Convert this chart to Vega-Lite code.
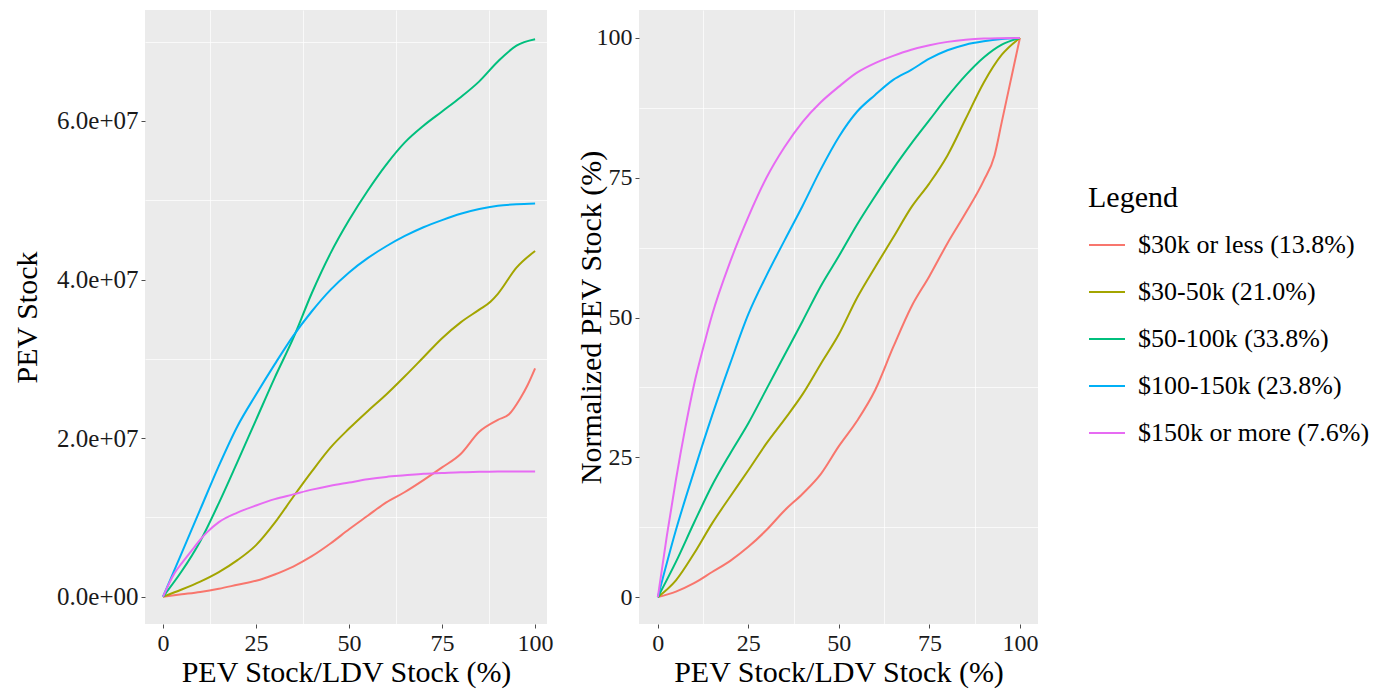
{
  "$schema": "https://vega.github.io/schema/vega-lite/v6.json",
  "background": "white",
  "padding": {"left": 12, "top": 10, "right": 5, "bottom": 5},
  "spacing": 22,
  "config": {
    "font": "Liberation Serif",
    "view": {"fill": "#EBEBEB", "stroke": null},
    "axis": {
      "labelFont": "Liberation Serif", "labelFontSize": 24, "labelColor": "#1a1a1a",
      "titleFont": "Liberation Serif", "titleFontSize": 30, "titleFontWeight": "normal", "titleColor": "black",
      "domain": false, "tickColor": "#4d4d4d", "tickSize": 4, "tickWidth": 1, "labelPadding": 3,
      "gridColor": "white", "gridWidth": 1.4, "labelFlush": false, "labelOverlap": false
    },
    "legend": {
      "titleFont": "Liberation Serif", "titleFontSize": 30, "titleFontWeight": "normal", "titleColor": "black",
      "labelFont": "Liberation Serif", "labelFontSize": 26, "labelColor": "black", "labelLimit": 400,
      "symbolType": "stroke", "symbolStrokeWidth": 2, "symbolSize": 1296,
      "labelOffset": 12, "rowPadding": 15, "titlePadding": 13, "padding": 0
    }
  },
  "datasets": {
    "stock": [
      {"g":"$30k or less (13.8%)","x":0,"v":0},{"g":"$30k or less (13.8%)","x":5,"v":300000},{"g":"$30k or less (13.8%)","x":10,"v":600000},{"g":"$30k or less (13.8%)","x":15,"v":1000000},{"g":"$30k or less (13.8%)","x":20,"v":1500000},{"g":"$30k or less (13.8%)","x":25,"v":2000000},{"g":"$30k or less (13.8%)","x":30,"v":2800000},{"g":"$30k or less (13.8%)","x":35,"v":3800000},{"g":"$30k or less (13.8%)","x":40,"v":5100000},{"g":"$30k or less (13.8%)","x":45,"v":6700000},{"g":"$30k or less (13.8%)","x":50,"v":8500000},{"g":"$30k or less (13.8%)","x":55,"v":10200000},{"g":"$30k or less (13.8%)","x":60,"v":11900000},{"g":"$30k or less (13.8%)","x":65,"v":13200000},{"g":"$30k or less (13.8%)","x":70,"v":14700000},{"g":"$30k or less (13.8%)","x":75,"v":16300000},{"g":"$30k or less (13.8%)","x":80,"v":18000000},{"g":"$30k or less (13.8%)","x":85,"v":20800000},{"g":"$30k or less (13.8%)","x":90,"v":22300000},{"g":"$30k or less (13.8%)","x":93,"v":23000000},{"g":"$30k or less (13.8%)","x":96,"v":25000000},{"g":"$30k or less (13.8%)","x":98,"v":26700000},{"g":"$30k or less (13.8%)","x":100,"v":28800000},
      {"g":"$30-50k (21.0%)","x":0,"v":0},{"g":"$30-50k (21.0%)","x":5,"v":900000},{"g":"$30-50k (21.0%)","x":10,"v":1900000},{"g":"$30-50k (21.0%)","x":15,"v":3100000},{"g":"$30-50k (21.0%)","x":20,"v":4600000},{"g":"$30-50k (21.0%)","x":25,"v":6500000},{"g":"$30-50k (21.0%)","x":30,"v":9300000},{"g":"$30-50k (21.0%)","x":35,"v":12600000},{"g":"$30-50k (21.0%)","x":40,"v":15800000},{"g":"$30-50k (21.0%)","x":45,"v":18800000},{"g":"$30-50k (21.0%)","x":50,"v":21200000},{"g":"$30-50k (21.0%)","x":55,"v":23400000},{"g":"$30-50k (21.0%)","x":60,"v":25500000},{"g":"$30-50k (21.0%)","x":65,"v":27800000},{"g":"$30-50k (21.0%)","x":70,"v":30200000},{"g":"$30-50k (21.0%)","x":75,"v":32600000},{"g":"$30-50k (21.0%)","x":80,"v":34600000},{"g":"$30-50k (21.0%)","x":85,"v":36200000},{"g":"$30-50k (21.0%)","x":88,"v":37200000},{"g":"$30-50k (21.0%)","x":90,"v":38200000},{"g":"$30-50k (21.0%)","x":95,"v":41500000},{"g":"$30-50k (21.0%)","x":100,"v":43600000},
      {"g":"$50-100k (33.8%)","x":0,"v":0},{"g":"$50-100k (33.8%)","x":5,"v":3200000},{"g":"$50-100k (33.8%)","x":10,"v":7000000},{"g":"$50-100k (33.8%)","x":15,"v":11800000},{"g":"$50-100k (33.8%)","x":20,"v":17000000},{"g":"$50-100k (33.8%)","x":25,"v":22300000},{"g":"$50-100k (33.8%)","x":30,"v":27600000},{"g":"$50-100k (33.8%)","x":35,"v":32600000},{"g":"$50-100k (33.8%)","x":40,"v":38300000},{"g":"$50-100k (33.8%)","x":45,"v":43300000},{"g":"$50-100k (33.8%)","x":50,"v":47500000},{"g":"$50-100k (33.8%)","x":55,"v":51200000},{"g":"$50-100k (33.8%)","x":60,"v":54500000},{"g":"$50-100k (33.8%)","x":65,"v":57300000},{"g":"$50-100k (33.8%)","x":70,"v":59400000},{"g":"$50-100k (33.8%)","x":75,"v":61200000},{"g":"$50-100k (33.8%)","x":80,"v":63000000},{"g":"$50-100k (33.8%)","x":85,"v":65000000},{"g":"$50-100k (33.8%)","x":90,"v":67500000},{"g":"$50-100k (33.8%)","x":95,"v":69500000},{"g":"$50-100k (33.8%)","x":100,"v":70300000},
      {"g":"$100-150k (23.8%)","x":0,"v":0},{"g":"$100-150k (23.8%)","x":5,"v":5500000},{"g":"$100-150k (23.8%)","x":10,"v":11000000},{"g":"$100-150k (23.8%)","x":15,"v":16500000},{"g":"$100-150k (23.8%)","x":20,"v":21500000},{"g":"$100-150k (23.8%)","x":25,"v":25500000},{"g":"$100-150k (23.8%)","x":30,"v":29300000},{"g":"$100-150k (23.8%)","x":35,"v":32900000},{"g":"$100-150k (23.8%)","x":40,"v":36000000},{"g":"$100-150k (23.8%)","x":45,"v":38700000},{"g":"$100-150k (23.8%)","x":50,"v":40900000},{"g":"$100-150k (23.8%)","x":55,"v":42700000},{"g":"$100-150k (23.8%)","x":60,"v":44200000},{"g":"$100-150k (23.8%)","x":65,"v":45500000},{"g":"$100-150k (23.8%)","x":70,"v":46600000},{"g":"$100-150k (23.8%)","x":75,"v":47500000},{"g":"$100-150k (23.8%)","x":80,"v":48300000},{"g":"$100-150k (23.8%)","x":85,"v":48900000},{"g":"$100-150k (23.8%)","x":90,"v":49300000},{"g":"$100-150k (23.8%)","x":95,"v":49500000},{"g":"$100-150k (23.8%)","x":100,"v":49600000},
      {"g":"$150k or more (7.6%)","x":0,"v":0},{"g":"$150k or more (7.6%)","x":3,"v":2900000},{"g":"$150k or more (7.6%)","x":5,"v":4200000},{"g":"$150k or more (7.6%)","x":8,"v":6000000},{"g":"$150k or more (7.6%)","x":10,"v":7200000},{"g":"$150k or more (7.6%)","x":12,"v":8200000},{"g":"$150k or more (7.6%)","x":15,"v":9400000},{"g":"$150k or more (7.6%)","x":20,"v":10600000},{"g":"$150k or more (7.6%)","x":25,"v":11500000},{"g":"$150k or more (7.6%)","x":30,"v":12300000},{"g":"$150k or more (7.6%)","x":35,"v":12900000},{"g":"$150k or more (7.6%)","x":40,"v":13500000},{"g":"$150k or more (7.6%)","x":45,"v":14000000},{"g":"$150k or more (7.6%)","x":50,"v":14400000},{"g":"$150k or more (7.6%)","x":55,"v":14800000},{"g":"$150k or more (7.6%)","x":60,"v":15100000},{"g":"$150k or more (7.6%)","x":65,"v":15300000},{"g":"$150k or more (7.6%)","x":70,"v":15500000},{"g":"$150k or more (7.6%)","x":75,"v":15600000},{"g":"$150k or more (7.6%)","x":80,"v":15700000},{"g":"$150k or more (7.6%)","x":85,"v":15750000},{"g":"$150k or more (7.6%)","x":90,"v":15800000},{"g":"$150k or more (7.6%)","x":100,"v":15800000}
    ],
    "norm": [
      {"g":"$30k or less (13.8%)","x":0,"v":0},{"g":"$30k or less (13.8%)","x":5,"v":1},{"g":"$30k or less (13.8%)","x":10,"v":2.5},{"g":"$30k or less (13.8%)","x":15,"v":4.5},{"g":"$30k or less (13.8%)","x":20,"v":6.5},{"g":"$30k or less (13.8%)","x":25,"v":9},{"g":"$30k or less (13.8%)","x":30,"v":12},{"g":"$30k or less (13.8%)","x":35,"v":15.5},{"g":"$30k or less (13.8%)","x":40,"v":18.5},{"g":"$30k or less (13.8%)","x":45,"v":22},{"g":"$30k or less (13.8%)","x":50,"v":27},{"g":"$30k or less (13.8%)","x":55,"v":31.5},{"g":"$30k or less (13.8%)","x":60,"v":37},{"g":"$30k or less (13.8%)","x":65,"v":44.7},{"g":"$30k or less (13.8%)","x":70,"v":51.9},{"g":"$30k or less (13.8%)","x":75,"v":57.4},{"g":"$30k or less (13.8%)","x":80,"v":63.3},{"g":"$30k or less (13.8%)","x":85,"v":68.7},{"g":"$30k or less (13.8%)","x":90,"v":74.5},{"g":"$30k or less (13.8%)","x":93,"v":79},{"g":"$30k or less (13.8%)","x":95,"v":85},{"g":"$30k or less (13.8%)","x":97.5,"v":92.5},{"g":"$30k or less (13.8%)","x":100,"v":100},
      {"g":"$30-50k (21.0%)","x":0,"v":0},{"g":"$30-50k (21.0%)","x":5,"v":3},{"g":"$30-50k (21.0%)","x":10,"v":7.8},{"g":"$30-50k (21.0%)","x":15,"v":13.2},{"g":"$30-50k (21.0%)","x":20,"v":18},{"g":"$30-50k (21.0%)","x":25,"v":22.7},{"g":"$30-50k (21.0%)","x":30,"v":27.5},{"g":"$30-50k (21.0%)","x":35,"v":31.8},{"g":"$30-50k (21.0%)","x":40,"v":36.3},{"g":"$30-50k (21.0%)","x":45,"v":41.7},{"g":"$30-50k (21.0%)","x":50,"v":47},{"g":"$30-50k (21.0%)","x":55,"v":53.5},{"g":"$30-50k (21.0%)","x":60,"v":59},{"g":"$30-50k (21.0%)","x":65,"v":64.3},{"g":"$30-50k (21.0%)","x":70,"v":69.7},{"g":"$30-50k (21.0%)","x":75,"v":74},{"g":"$30-50k (21.0%)","x":80,"v":79},{"g":"$30-50k (21.0%)","x":85,"v":85.5},{"g":"$30-50k (21.0%)","x":90,"v":92},{"g":"$30-50k (21.0%)","x":95,"v":97},{"g":"$30-50k (21.0%)","x":100,"v":100},
      {"g":"$50-100k (33.8%)","x":0,"v":0},{"g":"$50-100k (33.8%)","x":5,"v":6.3},{"g":"$50-100k (33.8%)","x":10,"v":13.3},{"g":"$50-100k (33.8%)","x":15,"v":20},{"g":"$50-100k (33.8%)","x":20,"v":25.7},{"g":"$50-100k (33.8%)","x":25,"v":31.1},{"g":"$50-100k (33.8%)","x":30,"v":37.2},{"g":"$50-100k (33.8%)","x":35,"v":43.3},{"g":"$50-100k (33.8%)","x":40,"v":49.4},{"g":"$50-100k (33.8%)","x":45,"v":55.6},{"g":"$50-100k (33.8%)","x":50,"v":61},{"g":"$50-100k (33.8%)","x":55,"v":66.6},{"g":"$50-100k (33.8%)","x":60,"v":71.7},{"g":"$50-100k (33.8%)","x":65,"v":76.6},{"g":"$50-100k (33.8%)","x":70,"v":81.1},{"g":"$50-100k (33.8%)","x":75,"v":85.3},{"g":"$50-100k (33.8%)","x":80,"v":89.5},{"g":"$50-100k (33.8%)","x":85,"v":93.3},{"g":"$50-100k (33.8%)","x":90,"v":96.5},{"g":"$50-100k (33.8%)","x":95,"v":98.8},{"g":"$50-100k (33.8%)","x":100,"v":100},
      {"g":"$100-150k (23.8%)","x":0,"v":0},{"g":"$100-150k (23.8%)","x":5,"v":12},{"g":"$100-150k (23.8%)","x":10,"v":22.5},{"g":"$100-150k (23.8%)","x":15,"v":32.5},{"g":"$100-150k (23.8%)","x":20,"v":41.8},{"g":"$100-150k (23.8%)","x":25,"v":50.6},{"g":"$100-150k (23.8%)","x":30,"v":57.5},{"g":"$100-150k (23.8%)","x":35,"v":63.8},{"g":"$100-150k (23.8%)","x":40,"v":70},{"g":"$100-150k (23.8%)","x":45,"v":76.5},{"g":"$100-150k (23.8%)","x":50,"v":82.3},{"g":"$100-150k (23.8%)","x":55,"v":86.8},{"g":"$100-150k (23.8%)","x":60,"v":89.8},{"g":"$100-150k (23.8%)","x":65,"v":92.5},{"g":"$100-150k (23.8%)","x":70,"v":94.3},{"g":"$100-150k (23.8%)","x":75,"v":96.3},{"g":"$100-150k (23.8%)","x":80,"v":97.8},{"g":"$100-150k (23.8%)","x":85,"v":98.8},{"g":"$100-150k (23.8%)","x":90,"v":99.4},{"g":"$100-150k (23.8%)","x":95,"v":99.8},{"g":"$100-150k (23.8%)","x":100,"v":100},
      {"g":"$150k or more (7.6%)","x":0,"v":0},{"g":"$150k or more (7.6%)","x":2.5,"v":11},{"g":"$150k or more (7.6%)","x":5,"v":21},{"g":"$150k or more (7.6%)","x":7.5,"v":30},{"g":"$150k or more (7.6%)","x":10,"v":38},{"g":"$150k or more (7.6%)","x":12.5,"v":44.5},{"g":"$150k or more (7.6%)","x":15,"v":50.5},{"g":"$150k or more (7.6%)","x":20,"v":60},{"g":"$150k or more (7.6%)","x":25,"v":68},{"g":"$150k or more (7.6%)","x":30,"v":75},{"g":"$150k or more (7.6%)","x":35,"v":80.5},{"g":"$150k or more (7.6%)","x":40,"v":85},{"g":"$150k or more (7.6%)","x":45,"v":88.5},{"g":"$150k or more (7.6%)","x":50,"v":91.3},{"g":"$150k or more (7.6%)","x":55,"v":93.8},{"g":"$150k or more (7.6%)","x":60,"v":95.5},{"g":"$150k or more (7.6%)","x":65,"v":96.8},{"g":"$150k or more (7.6%)","x":70,"v":97.9},{"g":"$150k or more (7.6%)","x":75,"v":98.7},{"g":"$150k or more (7.6%)","x":80,"v":99.3},{"g":"$150k or more (7.6%)","x":85,"v":99.7},{"g":"$150k or more (7.6%)","x":90,"v":99.9},{"g":"$150k or more (7.6%)","x":100,"v":100}
    ]
  },
  "hconcat": [
    {
      "width": 402,
      "height": 614,
      "data": {"name": "stock"},
      "layer": [
        {
          "mark": {"type": "line", "opacity": 0},
          "encoding": {
            "x": {"field": "x", "type": "quantitative", "scale": {"domain": [-4.85, 103.2], "nice": false, "zero": false},
                  "axis": {"orient": "bottom", "values": [12.5, 37.5, 62.5, 87.5], "grid": true, "gridWidth": 0.7, "labels": false, "ticks": false, "domain": false, "title": null}},
            "y": {"field": "v", "type": "quantitative", "scale": {"domain": [-3450000, 74000000], "nice": false, "zero": false},
                  "axis": {"orient": "left", "values": [10000000, 30000000, 50000000, 70000000], "grid": true, "gridWidth": 0.7, "labels": false, "ticks": false, "domain": false, "title": null}},
            "detail": {"field": "g", "type": "nominal"}
          }
        },
        {
          "mark": {"type": "line", "strokeWidth": 2, "interpolate": "monotone"},
          "encoding": {
            "x": {"field": "x", "type": "quantitative", "scale": {"domain": [-4.85, 103.2], "nice": false, "zero": false},
                  "axis": {"orient": "bottom", "values": [0, 25, 50, 75, 100], "title": "PEV Stock/LDV Stock (%)", "titlePadding": 2}},
            "y": {"field": "v", "type": "quantitative", "scale": {"domain": [-3450000, 74000000], "nice": false, "zero": false},
                  "axis": {"orient": "left", "values": [0, 20000000, 40000000, 60000000], "title": "PEV Stock", "titlePadding": 14, "labelFontSize": 25,
                           "labelExpr": "datum.value == 0 ? '0.0e+00' : format(datum.value / 10000000, '.1f') + 'e+07'"}},
            "color": {"field": "g", "type": "nominal", "title": "Legend",
                      "scale": {"domain": ["$30k or less (13.8%)", "$30-50k (21.0%)", "$50-100k (33.8%)", "$100-150k (23.8%)", "$150k or more (7.6%)"],
                                "range": ["#F8766D", "#A3A500", "#00BF7D", "#00B0F6", "#E76BF3"]},
                      "legend": {"orient": "none", "legendX": 943, "legendY": 173}}
          }
        }
      ],
      "resolve": {"axis": {"x": "independent", "y": "independent"}}
    },
    {
      "width": 399,
      "height": 614,
      "data": {"name": "norm"},
      "layer": [
        {
          "mark": {"type": "line", "opacity": 0},
          "encoding": {
            "x": {"field": "x", "type": "quantitative", "scale": {"domain": [-5.2, 105], "nice": false, "zero": false},
                  "axis": {"orient": "bottom", "values": [12.5, 37.5, 62.5, 87.5], "grid": true, "gridWidth": 0.7, "labels": false, "ticks": false, "domain": false, "title": null}},
            "y": {"field": "v", "type": "quantitative", "scale": {"domain": [-4.8, 105], "nice": false, "zero": false},
                  "axis": {"orient": "left", "values": [12.5, 37.5, 62.5, 87.5], "grid": true, "gridWidth": 0.7, "labels": false, "ticks": false, "domain": false, "title": null}},
            "detail": {"field": "g", "type": "nominal"}
          }
        },
        {
          "mark": {"type": "line", "strokeWidth": 2, "interpolate": "monotone"},
          "encoding": {
            "x": {"field": "x", "type": "quantitative", "scale": {"domain": [-5.2, 105], "nice": false, "zero": false},
                  "axis": {"orient": "bottom", "values": [0, 25, 50, 75, 100], "title": "PEV Stock/LDV Stock (%)", "titlePadding": 2}},
            "y": {"field": "v", "type": "quantitative", "scale": {"domain": [-4.8, 105], "nice": false, "zero": false},
                  "axis": {"orient": "left", "values": [0, 25, 50, 75, 100], "title": "Normalized PEV Stock (%)", "titlePadding": -10}},
            "color": {"field": "g", "type": "nominal", "title": "Legend",
                      "scale": {"domain": ["$30k or less (13.8%)", "$30-50k (21.0%)", "$50-100k (33.8%)", "$100-150k (23.8%)", "$150k or more (7.6%)"],
                                "range": ["#F8766D", "#A3A500", "#00BF7D", "#00B0F6", "#E76BF3"]},
                      "legend": {"orient": "none", "legendX": 943, "legendY": 173}}
          }
        }
      ],
      "resolve": {"axis": {"x": "independent", "y": "independent"}}
    }
  ]
}
